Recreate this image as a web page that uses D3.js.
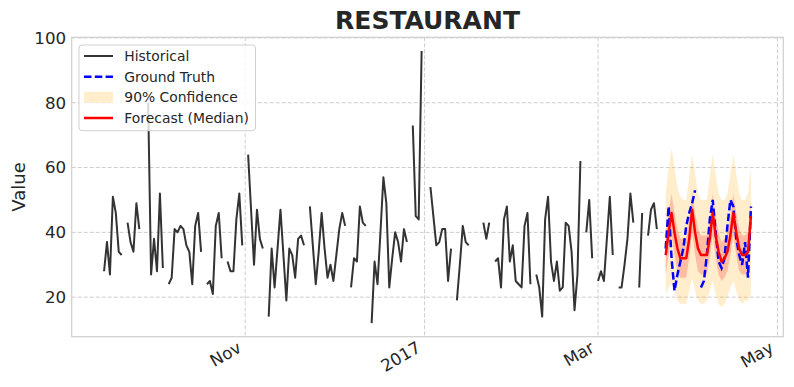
<!DOCTYPE html>
<html>
<head>
<meta charset="utf-8">
<script src="https://cdn.jsdelivr.net/npm/d3@7"></script>
<style>
    body { margin: 0; background: #fff; }
    text { font-family: "DejaVu Sans", sans-serif; fill: #262626; }
</style>
</head>
<body>
<script>
// daily visitors, first value is 2016-09-14, null = closed / missing
var historyStart = Date.UTC(2016, 8, 14);
var historical = [
    28, 37, 27, 51, 46, 34, 33, null, 43, 37,
    34, 49, 41, null, null, 80, 27, 38, 28, 52,
    29, null, 24, 26, 41, 40, 42, 41, 36, 34,
    24, 42, 46, 34, null, 24, 25, 21, 42, 46,
    32, null, 31, 28, 28, 44, 52, 36, null, 64,
    47, 30, 47, 38, 35, null, 14, 35, 23, 35,
    47, 33, 19, 35, 33, 26, 38, 39, 36, null,
    48, 36, 24, 34, 46, 35, 26, 30, 25, 33,
    41, 46, 42, null, 23, 32, 31, 48, 43, 42,
    null, 12, 31, 24, 40, 57, 49, 23, 32, 40,
    37, 31, 41, 37, null, 73, 45, 44, 96, null,
    null, 54, 45, 36, 37, 41, 41, 25, 35, null,
    19, 30, 42, 37, 36, null, null, null, null, 43,
    38, 43, null, 31, 32, 23, 44, 48, 31, 36,
    25, 24, 23, 42, 46, 24, null, 27, 23, 14,
    44, 51, 31, 25, 31, 22, 23, 43, 42, 34,
    16, 27, 62, null, 40, 50, 32, null, 25, 28,
    25, 38, 51, 33, null, 23, 23, 30, 38, 52,
    43, null, 23, 46, null, 39, 47, 49, 41
];

// forecast window, first value is 2017-03-24
var forecastStart = Date.UTC(2017, 2, 24);
var groundTruth = [35, 48, 32, 22, 27, 31, 35, 42, 46, 49, 53, null, 23, 25, 33,
    44, 50, 40, 31, 29, 32, 42, 50, 48, 38, 33, 30, 37, 26, 48];
var median = [33, 40, 46, 40, 35, 32, 32, 32, 38, 47, 40, 35, 33, 33, 33,
    38, 46, 39, 34, 31, 32, 34, 39, 46, 40, 35, 33, 33, 34, 45];
var q05 = [21, 23, 24, 22, 19, 18, 18, 18, 22, 26, 22, 19, 18, 18, 19,
    22, 25, 21, 18, 17, 18, 20, 23, 25, 22, 19, 18, 19, 19, 21];
var q95 = [52, 60, 66, 60, 54, 51, 50, 50, 57, 64, 58, 52, 50, 50, 50,
    57, 64, 58, 52, 50, 50, 52, 58, 64, 58, 52, 50, 50, 52, 60];
var q25 = [27, 33, 39, 33, 28, 26, 26, 26, 32, 40, 33, 28, 27, 27, 27,
    32, 39, 32, 27, 25, 26, 28, 33, 39, 33, 28, 27, 27, 28, 38];
var q75 = [40, 46, 52, 46, 41, 38, 38, 38, 44, 52, 46, 41, 39, 39, 39,
    44, 52, 45, 40, 37, 38, 40, 45, 52, 46, 41, 39, 39, 40, 50];

var xTickDates = [Date.UTC(2016, 10, 1), Date.UTC(2017, 0, 1), Date.UTC(2017, 2, 1), Date.UTC(2017, 4, 1)];
var xTickLabels = ["Nov", "2017", "Mar", "May"];
var yTicks = [20, 40, 60, 80, 100];

var legendLabels = ["Historical", "Ground Truth", "90% Confidence", "Forecast (Median)"];

var DAY = 86400000;
var w = 794, h = 387;
var plotL = 71.7, plotR = 783.3, plotT = 37.3, plotB = 336.7;

var hist = historical.map(function (v, i) { return { date: new Date(historyStart + i * DAY), v: v }; });
var fc = median.map(function (v, i) {
    return {
        date: new Date(forecastStart + i * DAY), v: v, gt: groundTruth[i],
        lo90: q05[i], hi90: q95[i], lo50: q25[i], hi50: q75[i]
    };
});

// matplotlib-like 5% margins around the data
var xMin = hist[0].date, xMax = fc[fc.length - 1].date;
var pad = (xMax - xMin) * 0.05;
var x = d3.scaleUtc().domain([new Date(+xMin - pad), new Date(+xMax + pad)]).range([plotL, plotR]);

var allVals = historical.concat(groundTruth, q05, q95).filter(function (v) { return v != null; });
var yLo = d3.min(allVals), yHi = d3.max(allVals);
var ypad = (yHi - yLo) * 0.05;
var y = d3.scaleLinear().domain([yLo - ypad, yHi + ypad]).range([plotB, plotT]);

var svg = d3.select("body").append("svg").attr("width", w).attr("height", h);
svg.append("rect").attr("width", w).attr("height", h).attr("fill", "#fff");

// grid
svg.append("g").selectAll("line").data(yTicks).enter().append("line")
    .attr("x1", plotL).attr("x2", plotR)
    .attr("y1", d => y(d)).attr("y2", d => y(d))
    .attr("stroke", "#cdcdcd").attr("stroke-width", 1).attr("stroke-dasharray", "4,2");
svg.append("g").selectAll("line").data(xTickDates).enter().append("line")
    .attr("x1", d => x(new Date(d))).attr("x2", d => x(new Date(d)))
    .attr("y1", plotT).attr("y2", plotB)
    .attr("stroke", "#cdcdcd").attr("stroke-width", 1).attr("stroke-dasharray", "4,2");

// bands
var area90 = d3.area().x(d => x(d.date)).y0(d => y(d.lo90)).y1(d => y(d.hi90));
var area50 = d3.area().x(d => x(d.date)).y0(d => y(d.lo50)).y1(d => y(d.hi50));
svg.append("path").datum(fc).attr("d", area90).attr("fill", "orange").attr("fill-opacity", 0.2);
svg.append("path").datum(fc).attr("d", area50).attr("fill", "red").attr("fill-opacity", 0.2);

// historical
var histLine = d3.line().defined(d => d.v != null).x(d => x(d.date)).y(d => y(d.v));
svg.append("path").datum(hist).attr("d", histLine)
    .attr("fill", "none").attr("stroke", "#333").attr("stroke-width", 2).attr("stroke-linejoin", "round");

// ground truth
var gtLine = d3.line().defined(d => d.gt != null).x(d => x(d.date)).y(d => y(d.gt));
svg.append("path").datum(fc).attr("d", gtLine)
    .attr("fill", "none").attr("stroke", "blue").attr("stroke-width", 2.5).attr("stroke-dasharray", "7.5,3.3");

// median
var medLine = d3.line().x(d => x(d.date)).y(d => y(d.v));
svg.append("path").datum(fc).attr("d", medLine)
    .attr("fill", "none").attr("stroke", "red").attr("stroke-width", 2.5).attr("stroke-linejoin", "round");

// frame
svg.append("rect").attr("x", plotL).attr("y", plotT).attr("width", plotR - plotL).attr("height", plotB - plotT)
    .attr("fill", "none").attr("stroke", "#d0d0d0").attr("stroke-width", 1.25);

// y tick labels
svg.append("g").selectAll("text").data(yTicks).enter().append("text")
    .attr("x", plotL - 5.5).attr("y", d => y(d)).attr("dy", "0.35em")
    .attr("text-anchor", "end").attr("font-size", 16.7).text(d => d);

// x tick labels, rotated 30deg, right aligned like autofmt_xdate
svg.append("g").selectAll("text").data(xTickDates).enter().append("text")
    .attr("transform", d => "translate(" + (x(new Date(d)) - 9) + "," + 340 + ") rotate(-30)")
    .attr("dy", "0.76em").attr("text-anchor", "end").attr("font-size", 16.7)
    .text((d, i) => xTickLabels[i]);

// axis label + title
svg.append("text").attr("transform", "translate(25," + ((plotT + plotB) / 2) + ") rotate(-90)")
    .attr("text-anchor", "middle").attr("font-size", 18).text("Value");
svg.append("text").attr("x", (plotL + plotR) / 2).attr("y", 29).attr("text-anchor", "middle")
    .attr("font-size", 25).attr("font-weight", "bold").attr("fill", "#222").text("RESTAURANT");

// legend
var lg = svg.append("g");
lg.append("rect").attr("x", 79).attr("y", 45).attr("width", 176.5).attr("height", 85.7).attr("rx", 3)
    .attr("fill", "#fff").attr("fill-opacity", 0.8).attr("stroke", "#d0d0d0").attr("stroke-width", 1);
var rowY = d3.scaleLinear().domain([0, 3]).range([56, 118]);
lg.append("line").attr("x1", 84).attr("x2", 113).attr("y1", rowY(0)).attr("y2", rowY(0))
    .attr("stroke", "#333").attr("stroke-width", 2);
lg.append("line").attr("x1", 84).attr("x2", 113).attr("y1", rowY(1)).attr("y2", rowY(1))
    .attr("stroke", "blue").attr("stroke-width", 2.5).attr("stroke-dasharray", "7.5,3.3");
lg.append("rect").attr("x", 84).attr("y", rowY(2) - 5.5).attr("width", 29).attr("height", 11)
    .attr("fill", "orange").attr("fill-opacity", 0.2);
lg.append("line").attr("x1", 84).attr("x2", 113).attr("y1", rowY(3)).attr("y2", rowY(3))
    .attr("stroke", "red").attr("stroke-width", 2.5);
lg.selectAll(".lt").data(legendLabels).enter().append("text").attr("class", "lt")
    .attr("x", 124.3).attr("y", (d, i) => rowY(i)).attr("dy", "0.35em")
    .attr("font-size", 13.9).text(d => d);
</script>
</body>
</html>
